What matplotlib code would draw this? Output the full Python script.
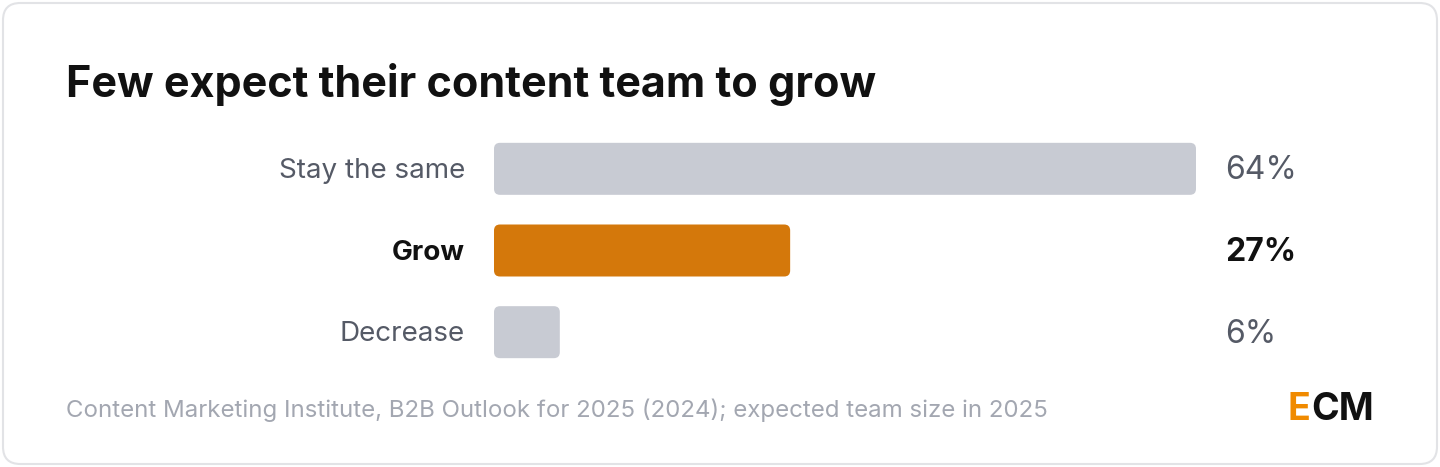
import matplotlib
matplotlib.use("Agg")
import matplotlib.pyplot as plt
from matplotlib.patches import FancyBboxPatch

categories = ["Stay the same", "Grow", "Decrease"]
values = [64, 27, 6]
highlight = "Grow"
title = "Few expect their content team to grow"
source = "Content Marketing Institute, B2B Outlook for 2025 (2024); expected team size in 2025"

W, H = 1440, 467
plt.rcParams['font.family'] = ['Inter', 'DejaVu Sans']
fig = plt.figure(figsize=(W/100, H/100), dpi=100)
fig.patch.set_facecolor("white")

card = FancyBboxPatch((3/W, 3/H), (W-6)/W, (H-6)/H, boxstyle="round,pad=0,rounding_size=0.012",
                      transform=fig.transFigure, facecolor="none", edgecolor="#e2e3e6", lw=1.5,
                      mutation_aspect=W/H, zorder=-5)
fig.patches.append(card)

fig.text(66/W, 1-85/H, title, fontsize=31, fontweight="bold", color="#111111", va="center", ha="left")

ax_l, ax_r, ax_t, ax_b = 494, 1196, 128, 373
ax = fig.add_axes([ax_l/W, 1-ax_b/H, (ax_r-ax_l)/W, (ax_b-ax_t)/H])
ax.set_xlim(0, max(values))
ax.set_ylim(len(values)-0.5, -0.5)
ax.axis("off")
xupp = max(values)/(ax_r-ax_l)
yupp = len(values)/(ax_b-ax_t)
bh = 52*yupp
rad = 6*xupp
for i, (c, v) in enumerate(zip(categories, values)):
    hl = c == highlight
    col = "#d4780b" if hl else "#c8cbd3"
    p = FancyBboxPatch((0, i-bh/2), v, bh, boxstyle=f"round,pad=0,rounding_size={rad}",
                       mutation_aspect=yupp/xupp, facecolor=col, edgecolor="none")
    ax.add_patch(p)
    ax.text(-29*xupp, i+2*yupp, c, ha="right", va="center", fontsize=20,
            color="#111111" if hl else "#555a66", fontweight="bold" if hl else "normal", clip_on=False)
    ax.text(max(values)+29*xupp, i+2*yupp, f"{v}%", ha="left", va="center", fontsize=23,
            color="#111111" if hl else "#555a66", fontweight="bold" if hl else "normal",
            clip_on=False)

fig.text(66/W, 1-410/H, source, fontsize=17.3, color="#a3a7b1", va="center", ha="left")
fig.text(1288/W, 1-410/H, "E", fontsize=27, fontweight="bold", color="#f08a00", va="center", ha="left")
fig.text(1311/W, 1-410/H, "CM", fontsize=27, fontweight="bold", color="#111111", va="center", ha="left")

fig.savefig("out.png", dpi=100, facecolor="white")
